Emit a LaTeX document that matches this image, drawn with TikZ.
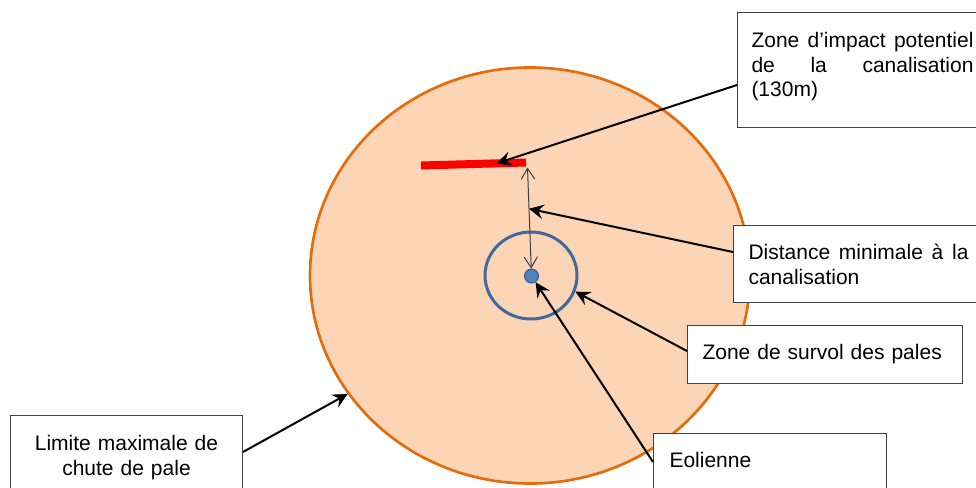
\documentclass[tikz,border=0pt]{standalone}
\usepackage{fontspec}
\setmainfont{Liberation Sans}
\usetikzlibrary{shapes.geometric,arrows.meta,calc}
\definecolor{zonefill}{RGB}{251,213,181}
\definecolor{zoneline}{RGB}{228,108,10}
\definecolor{rotorline}{RGB}{65,105,155}
\definecolor{mastfill}{RGB}{79,129,189}
\definecolor{mastline}{RGB}{56,93,138}
\newcommand\lblfont{\fontsize{15.75}{18.4}\selectfont}
\tolerance=9999
\hyphenpenalty=10000
\tikzset{
  lbl/.style={draw=black!75, line width=0.75pt, fill=white, anchor=north west,
    inner ysep=0pt, text height=25.5pt, font=\lblfont},
  ptr/.style={-{Stealth[length=11pt,width=11pt,inset=4pt]}, line width=1.5pt},
  dim/.style={{Straight Barb[length=8pt,width=10pt]}-{Straight Barb[length=8pt,width=10pt]},
    line width=0.75pt, black!75}
}
\begin{document}
\begin{tikzpicture}[x=0.75pt,y=-0.75pt]
    \clip (0,0) rectangle (976,487);
    \node (chute) [ellipse, draw=zoneline, fill=zonefill, line width=2pt, inner sep=0pt,
      minimum width=330pt, minimum height=312pt] at (530,275.5) {};
    \node (rotor) [ellipse, draw=rotorline, line width=2.25pt, inner sep=0pt,
      minimum width=69pt, minimum height=65.25pt] at (531,275.5) {};
    \coordinate (pipeW) at (421,165.5);
    \coordinate (pipeE) at (526,162.5);
    \draw[red, line width=6pt] (pipeW) -- (pipeE);
    \node (mat) [circle, draw=mastline, fill=mastfill, line width=0.75pt, inner sep=0pt,
      minimum size=10.5pt] at (531.5,276) {};
    \coordinate (hit) at ($(pipeW)!0.72!(pipeE)$);
    \coordinate (pipefoot) at ($(pipeE)+(1.5,5)$);
    \coordinate (gap) at ($(pipefoot)!0.38!(mat.center)$);
    \draw[dim] (pipefoot) -- (mat);

    \node (imp) [lbl, inner xsep=10.5pt, text width=166.5pt, text height=26.25pt,
      text depth=60pt, align=justify]
      at (737,12) {Zone d’impact potentiel de la canalisation (130m)};
    \node (dist) [lbl, inner xsep=11.25pt, text width=165pt, text depth=32.25pt, align=justify]
      at (733,225) {Distance minimale à la canalisation};
    \node (survol) [lbl, inner xsep=11.25pt, text width=183.75pt, text depth=18pt, align=left]
      at (687,325) {Zone de survol des pales};
    \node (eol) [lbl, inner xsep=12pt, text width=150.75pt, text depth=22.5pt, align=left]
      at (653,433) {Eolienne};
    \node (lim) [lbl, inner xsep=7.5pt, text width=159pt, text height=26.25pt,
      text depth=29.25pt, align=center]
      at (10,415) {Limite maximale de\\chute de pale};

    \draw[ptr] ($(imp.north west)+(0,73)$) -- (hit);
    \draw[ptr] ($(dist.north west)+(0,27)$) -- (gap);
    \draw[ptr] ($(survol.north west)+(0,26)$) -- (rotor.-20);
    \draw[ptr] ($(eol.north west)+(0,29)$) -- (mat);
    \draw[ptr] ($(lim.north east)+(0,37)$) -- (chute.213);
\end{tikzpicture}
\end{document}
